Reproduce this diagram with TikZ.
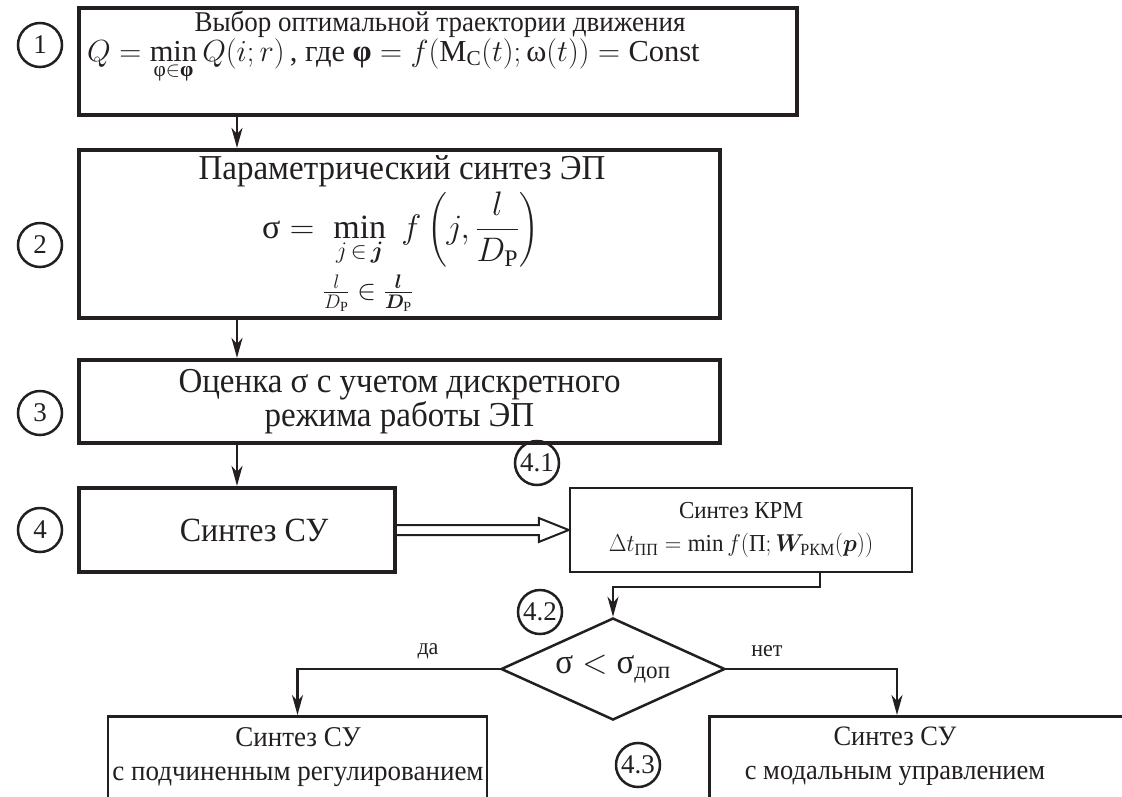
\RequirePackage{fix-cm}
\documentclass[tikz,border=0pt]{standalone}
\usepackage{amsmath}
\usepackage{bm}
\usepackage{graphicx}
\usepackage{fontspec}
\setmainfont{Liberation Serif}
\usetikzlibrary{arrows.meta,shapes.geometric,calc}
\definecolor{ink}{RGB}{35,31,32}
\newcommand{\stt}[1]{\scalebox{1}[1.06]{#1}}
\tikzset{
  bigbox/.style={draw=ink, line width=4.2pt, inner sep=0pt},
  thinbox/.style={draw=ink, line width=2.5pt, inner sep=0pt},
  numc/.style={draw=ink, circle, line width=2.5pt, minimum size=44pt, inner sep=0pt, text=ink, font=\fontsize{27}{28}\selectfont},
  arr/.style={draw=ink, line width=2.2pt, -{Stealth[length=20pt,width=11pt,inset=6pt]}},
  txt/.style={font=\fontsize{26}{29}\selectfont, inner sep=0pt, text=ink},
  lbl/.style={font=\fontsize{22}{24}\selectfont, inner sep=0pt, text=ink},
}
\begin{document}
\begin{tikzpicture}[x=1pt,y=-1pt]
\useasboundingbox (0,0) rectangle (1122,796);
\clip (0,0) rectangle (1122,796);
\fill[white] (0,0) rectangle (1122,796);

% box 1
\node[bigbox, minimum width=718pt, minimum height=107pt] (b1) at (438,61.5) {};
\node[txt, anchor=base, font=\fontsize{27}{29}\selectfont] (t1a) at (440,31) {\stt{Выбор оптимальной траектории движения}};
\node[txt, anchor=base west, font=\fontsize{30.5}{33}\selectfont] (t1b) at (87,61) {$Q=\min\limits_{\text{φ}\in\textbf{φ}} Q(i;r)$\,, где $\textbf{φ}=f(\text{М}_\text{С}(t);\text{ω}(t))=\mathrm{Const}$};
\node[numc] (c1) at (40,45) {1};

% box 2
\node[bigbox, minimum width=641pt, minimum height=168pt] (b2) at (399.5,234) {};
\node[txt, anchor=base, font=\fontsize{33}{35}\selectfont] (t2a) at (402,179) {\stt{Параметрический синтез ЭП}};
\node[txt, anchor=base west, font=\fontsize{34}{36}\selectfont] (t2b) at (262,238) {$\text{σ} = \;\min\limits_{\raisebox{-5pt}{$\scriptstyle j\,\in\,\bm{j}$}}\; f\left(j,\dfrac{l}{D_\text{Р}}\right)$};
\node[txt, font=\fontsize{28}{30}\selectfont] (t2c) at (368,293) {$\frac{l}{D_\text{Р}}\in\frac{\bm{l}}{\bm{D}_\text{Р}}$};
\node[numc] (c2) at (40,245) {2};

% box 3
\node[bigbox, align=center, text=ink, font=\fontsize{33}{31}\selectfont, minimum width=641pt, minimum height=83pt] (b3) at (399.5,401.5) {\stt{Оценка σ с учетом дискретного}\\\stt{режима работы ЭП}};
\node[numc] (c3) at (40,413) {3};

% box 4
\node[bigbox, minimum width=316pt, minimum height=84pt] (b4) at (237,530) {};
\node[txt, font=\fontsize{32}{36}\selectfont] (t4) at (254,530) {\stt{Синтез СУ}};
\node[numc] (c4) at (40,530) {4};

% box 4.1
\node[thinbox, align=center, text=ink, font=\fontsize{23}{33}\selectfont, minimum width=342pt, minimum height=84pt] (b41) at (741,530) {\stt{Синтез КРМ}\\\stt{$\Delta t_\text{ПП}=\min f(\text{П};\bm{W}_\text{РКМ}(\bm{p}))$}};
\node[numc] (c41) at (537,463) {4.1};

% decision
\node[diamond, draw=ink, line width=2.5pt, aspect=2.2, minimum width=224pt, minimum height=102pt, inner sep=0pt, text=ink, font=\fontsize{33}{34}\selectfont] (d) at (613,669) {\stt{$\text{σ} < \text{σ}_\text{доп}$}};
\node[numc] (c42) at (540,612) {4.2};
\node[numc] (c43) at (638,765) {4.3};

% bottom boxes
\node[thinbox, minimum width=379pt, minimum height=140pt, anchor=north] (bl) at (297.5,715) {};
\node[txt, align=center, anchor=north, font=\fontsize{27}{34}\selectfont] (tbl) at (298,727) {\stt{Синтез СУ}\\\stt{с подчиненным регулированием}};
\node[thinbox, minimum width=500pt, minimum height=140pt, anchor=north west] (br) at (708,715) {};
\node[txt, align=center, anchor=north, font=\fontsize{26.5}{34}\selectfont] (tbr) at (895,727) {\stt{Синтез СУ}\\\stt{с модальным управлением}};

% labels
\node[lbl] (lda) at (428,651) {\stt{да}};
\node[lbl] (lnet) at (767,651) {\stt{нет}};

% connectors
\draw[arr] (b1.south -| b4.north) -- (b2.north -| b4.north);
\draw[arr] (b2.south -| b4.north) -- (b3.north -| b4.north);
\draw[arr] (b3.south -| b4.north) -- (b4.north);

\draw[draw=ink, line width=2pt, line join=miter]
  ($(b4.east)+(0,-5)$) -- ($(b41.west)+(-30,-5)$) -- ($(b41.west)+(-30,-12)$)
  -- (b41.west) -- ($(b41.west)+(-30,12)$) -- ($(b41.west)+(-30,5)$) -- ($(b4.east)+(0,5)$);

\coordinate (k41) at (820,587);
\draw[arr] (b41.south -| k41) -- (k41) -| (d.north);
\draw[arr] (d.west) -| (bl.north);
\coordinate (kr) at (897,700);
\draw[arr] (d.east) -| (br.north -| kr);
\end{tikzpicture}
\end{document}
